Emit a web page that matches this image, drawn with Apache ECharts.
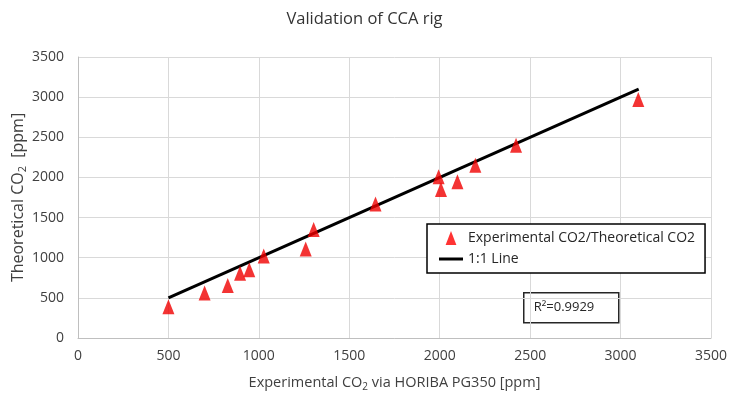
<!DOCTYPE html>
<html>
<head>
<meta charset="utf-8">
<script src="https://cdn.jsdelivr.net/npm/echarts@6/dist/echarts.min.js"></script>
<style>
html,body{margin:0;padding:0;background:#fff;}
#chart{width:729px;height:407px;}
</style>
</head>
<body>
<div id="chart"></div>
<script>
// Data
var expCO2 = [500, 700, 828, 896, 947, 1027, 1259, 1303, 1645, 1994, 2007, 2098, 2197, 2422, 3098];
var theoCO2 = [390, 562, 654, 808, 850, 1021, 1108, 1350, 1670, 2008, 1851, 1946, 2153, 2401, 2970];
var lineX = [500, 3100];
var lineY = [500, 3100];
var axisTicks = [0, 500, 1000, 1500, 2000, 2500, 3000, 3500];
var titleText = 'Validation of CCA rig';
var seriesNames = ['Experimental CO2/Theoretical CO2', '1:1 Line'];
var r2Text = 'R²=0.9929';

var FONT = '"Open Sans",sans-serif';
var chart = echarts.init(document.getElementById('chart'));
var scatterData = expCO2.map(function (x, i) { return [x, theoCO2[i]]; });
var lineData = lineX.map(function (x, i) { return [x, lineY[i]]; });
var plain = function (v) { return String(v); };

chart.setOption({
  animation: false,
  backgroundColor: '#fff',
  textStyle: { fontFamily: FONT },
  title: {
    text: titleText, left: 'center', top: 6,
    textStyle: { fontSize: 16.5, fontWeight: 'normal', color: '#333', fontFamily: FONT }
  },
  grid: { left: 78, right: 18, top: 57, bottom: 69, outerBoundsMode: 'none', containLabel: false },
  xAxis: {
    type: 'value', min: axisTicks[0], max: axisTicks[axisTicks.length - 1], interval: 500,
    name: 'Experimental CO{sub|2} via HORIBA PG350 [ppm]',
    nameLocation: 'middle', nameGap: 36,
    nameTextStyle: { fontSize: 14.5, color: '#404040', fontFamily: FONT,
      rich: { sub: { fontSize: 10, padding: [8, 0, 0, 0], color: '#404040', fontFamily: FONT } } },
    axisLine: { show: true, lineStyle: { color: '#bfbfbf' } },
    axisTick: { show: false },
    axisLabel: { fontSize: 14, color: '#404040', margin: 11, fontFamily: FONT, formatter: plain },
    splitLine: { show: true, lineStyle: { color: '#d9d9d9' } }
  },
  yAxis: {
    type: 'value', min: axisTicks[0], max: axisTicks[axisTicks.length - 1], interval: 500,
    name: 'Theoretical CO{sub|2}  [ppm]',
    nameLocation: 'middle', nameGap: 50, nameRotate: 90, nameMoveOverlap: false,
    nameTextStyle: { fontSize: 16, color: '#404040', fontFamily: FONT,
      rich: { sub: { fontSize: 11, padding: [9, 0, 0, 0], color: '#404040', fontFamily: FONT } } },
    axisLine: { show: true, lineStyle: { color: '#bfbfbf' } },
    axisTick: { show: false },
    axisLabel: { fontSize: 14, color: '#404040', margin: 14, fontFamily: FONT, formatter: plain },
    splitLine: { show: true, lineStyle: { color: '#d9d9d9' } }
  },
  legend: {
    orient: 'vertical', left: 427, top: 224,
    padding: [7, 10, 7, 12], itemGap: 7, itemWidth: 24, itemHeight: 14,
    symbolKeepAspect: true,
    borderColor: '#000', borderWidth: 1.5, backgroundColor: '#fff',
    textStyle: { fontSize: 14, color: '#262626', fontFamily: FONT },
    data: [
      { name: seriesNames[0], icon: 'path://M5 0 L10 13 L0 13 Z', itemStyle: { color: '#ff0000' } },
      { name: seriesNames[1], icon: 'path://M0 0 L24 0 L24 3 L0 3 Z', itemStyle: { color: '#000' } }
    ]
  },
  graphic: [{
    type: 'group', left: 523, top: 292,
    children: [
      { type: 'rect', shape: { x: 0, y: 0, width: 95, height: 30 },
        style: { fill: '#fff', stroke: '#262626', lineWidth: 1.5 } },
      { type: 'text', x: 10, y: 8,
        style: { text: r2Text, fontSize: 13, fill: '#262626', fontFamily: FONT } }
    ]
  }],
  series: [
    {
      name: seriesNames[0], type: 'scatter', data: scatterData,
      symbol: 'triangle', symbolSize: [12, 15],
      itemStyle: { color: '#f00000' }, z: 3
    },
    {
      name: seriesNames[1], type: 'line', data: lineData,
      showSymbol: false, symbol: 'none',
      lineStyle: { color: '#000', width: 3 }, itemStyle: { color: '#000' }, z: 2
    }
  ]
});
</script>
</body>
</html>
